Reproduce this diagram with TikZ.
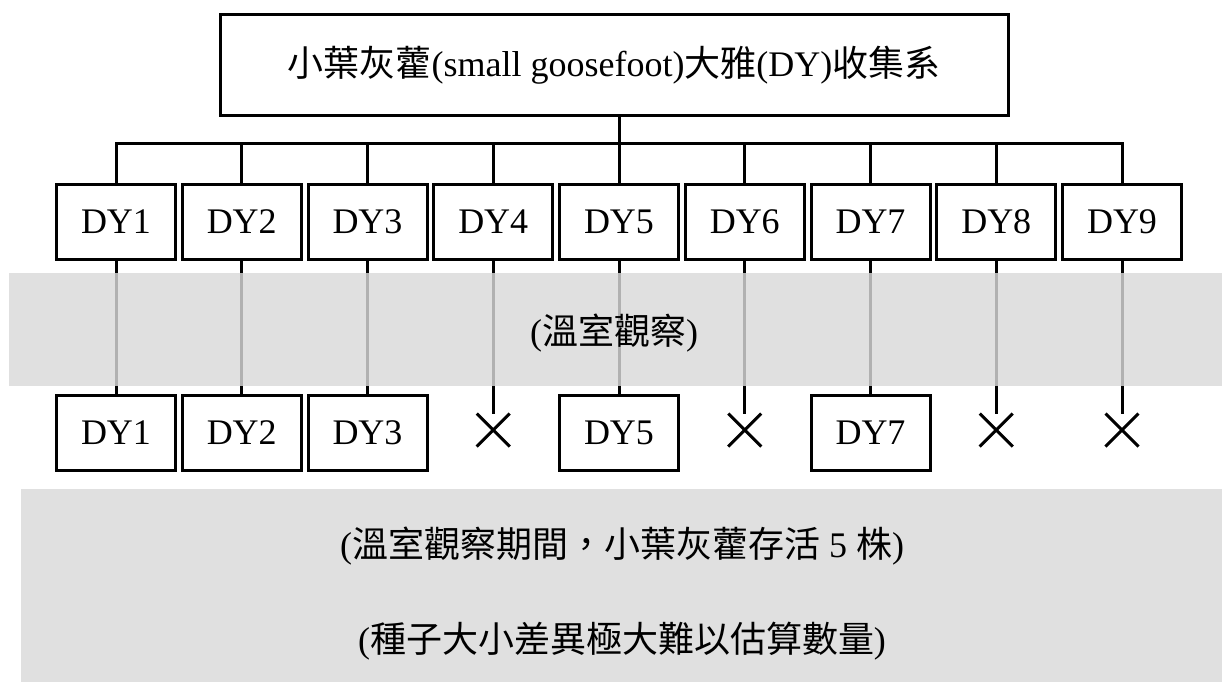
\documentclass[tikz,border=0pt]{standalone}
\usepackage{fontspec}
\setmainfont{Liberation Serif}
\newfontfamily\cjk{Noto Sans CJK TC}
\definecolor{bandgray}{gray}{0.85}
\usetikzlibrary{shapes,positioning}

\begin{document}
\begin{tikzpicture}[
        x=0.5pt, y=-0.5pt,
        font=\fontsize{18pt}{22pt}\selectfont,
        link/.style={line width=1.5pt},
        headbox/.style={rectangle, draw, line width=1.5pt, minimum width=394pt, minimum height=50.5pt, inner sep=0pt},
        dybox/.style={rectangle, draw, line width=1.5pt, minimum width=59.5pt, minimum height=37.5pt, inner sep=0pt},
        xmark/.style={cross out, draw, line width=1.5pt, minimum size=15pt, inner sep=0pt},
        band/.style={fill=bandgray, fill opacity=0.82}
    ]
    \useasboundingbox (0,0) rectangle (1222,682);

    \node[headbox] (head) at (614,65) {{\cjk 小葉灰藿}(small goosefoot){\cjk 大雅}(DY){\cjk 收集系}};

    \node[dybox] (t1) at (116,222) {DY1};
    \foreach \i [count=\j from 2] in {1,...,8}
        \node[dybox, right=1.875pt of t\i] (t\j) {DY\j};

    \foreach \i in {1,2,3,5,7}
        \node[dybox, below=66.5pt of t\i] (b\i) {DY\i};
    \foreach \i in {4,6,8,9}
        \node[xmark, yshift=1.5pt] (b\i) at (t\i |- b1) {};

    \coordinate (bus) at ([yshift=20pt]t5.north);
    \draw[link] (head.south -| bus) -- (bus);
    \foreach \i in {1,...,9}
        \draw[link] (t\i.north) |- (bus);
    \foreach \i in {1,...,9}
        \draw[link] (t\i.south) -- (b\i.north);

    % grey bands laid over the lines
    \fill[band] (9,273) rectangle (1222,386);
    \fill[band] (21,489) rectangle (1222,682);

    \node (obs) at (614,333) {({\cjk 溫室觀察})};
    \node (alive) at (622,546) {({\cjk 溫室觀察期間，小葉灰藿存活} 5 {\cjk 株})};
    \node (seed) at (622,641) {({\cjk 種子大小差異極大難以估算數量})};
\end{tikzpicture}
\end{document}
